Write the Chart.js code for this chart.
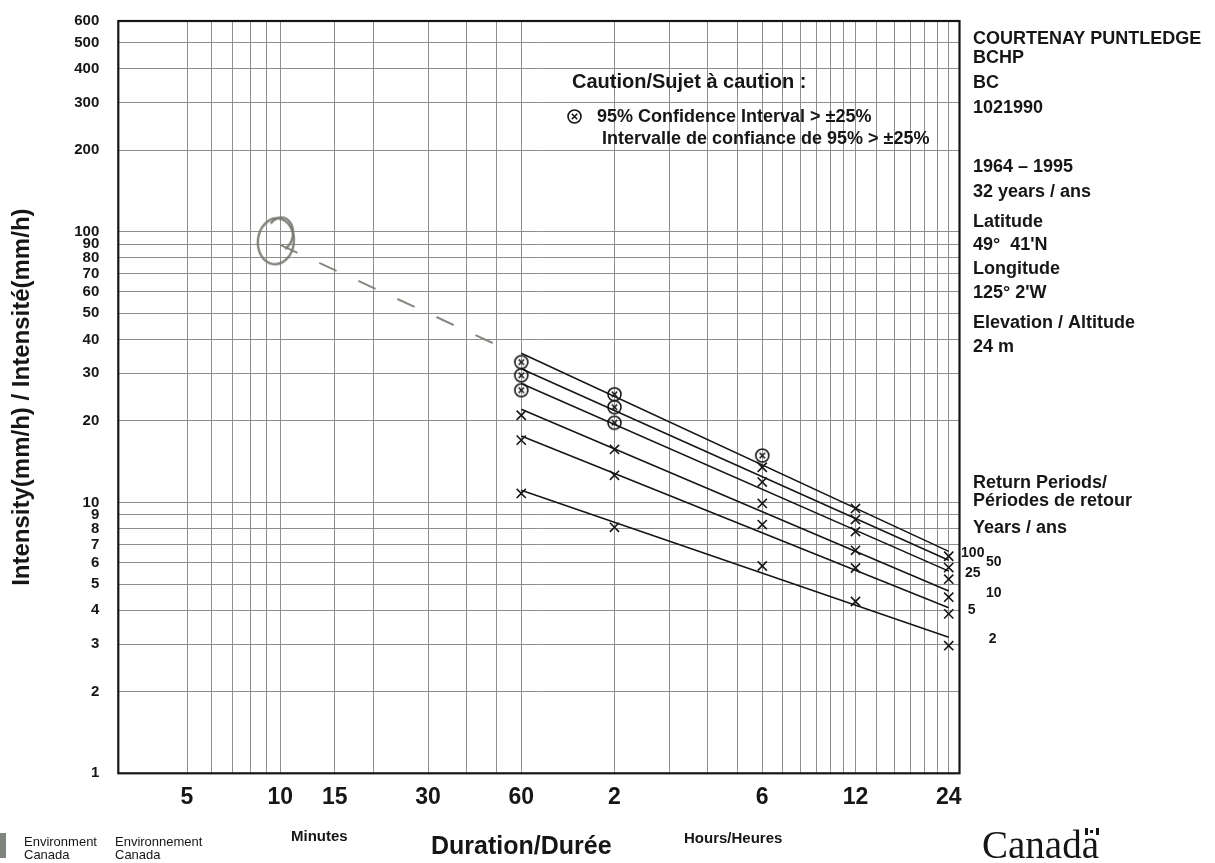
<!DOCTYPE html>
<html>
<head>
<meta charset="utf-8">
<title>IDF - Courtenay Puntledge BCHP</title>
<script src="https://cdn.jsdelivr.net/npm/chart.js@4.4.1/dist/chart.umd.min.js"></script>
<style>
  html, body { margin: 0; padding: 0; background: #fff; }
  #wrap { width: 1215px; height: 863px; position: relative; }
</style>
</head>
<body>
<div id="wrap"><canvas id="idfChart"></canvas></div>
<script>
// durations (minutes) where the intensities were computed
const durations = [60, 120, 360, 720, 1440];
const returnPeriods = ['2', '5', '10', '25', '50', '100'];

// intensity in mm/h, one list per return period
const intensity2 = [10.8, 8.1, 5.83, 4.31, 2.96];
const intensity5 = [17.0, 12.6, 8.29, 5.73, 3.88];
const intensity10 = [21.0, 15.7, 9.92, 6.66, 4.47];
const intensity25 = [26.0, 19.7, 11.9, 7.81, 5.21];
const intensity50 = [29.5, 22.5, 13.5, 8.65, 5.75];
const intensity100 = [33.0, 25.1, 14.9, 9.51, 6.33];

// 1 = 95% confidence interval > +-25% (circled marker)
const caution2 = [0, 0, 0, 0, 0];
const caution5 = [0, 0, 0, 0, 0];
const caution10 = [0, 0, 0, 0, 0];
const caution25 = [1, 1, 0, 0, 0];
const caution50 = [1, 1, 0, 0, 0];
const caution100 = [1, 1, 1, 0, 0];

// fitted lines, ends at 60 min and 24 h
const fitDurations = [60, 1440];
const fit2 = [11.1, 3.18];
const fit5 = [17.6, 4.09];
const fit10 = [22.1, 4.71];
const fit25 = [27.5, 5.58];
const fit50 = [31.2, 6.12];
const fit100 = [35.6, 6.60];

// pencil marks on the scanned sheet
const pencilDurations = [10, 51];
const pencilIntensity = [89.4, 37.8];
const circleDuration = [9.75];
const circleIntensity = [93];

// axes
const xGridValues = [5, 6, 7, 8, 9, 10, 15, 20, 30, 40, 50, 60, 120, 180, 240, 300, 360, 420, 480, 540, 600, 660, 720, 840, 960, 1080, 1200, 1320, 1440];
const xLabelValues = [5, 10, 15, 30, 60, 120, 360, 720, 1440];
const xLabels = ['5', '10', '15', '30', '60', '2', '6', '12', '24'];
const yTickValues = [1, 2, 3, 4, 5, 6, 7, 8, 9, 10, 20, 30, 40, 50, 60, 70, 80, 90, 100, 200, 300, 400, 500, 600];

const series = [
  { period: '2', values: intensity2, caution: caution2, fit: fit2 },
  { period: '5', values: intensity5, caution: caution5, fit: fit5 },
  { period: '10', values: intensity10, caution: caution10, fit: fit10 },
  { period: '25', values: intensity25, caution: caution25, fit: fit25 },
  { period: '50', values: intensity50, caution: caution50, fit: fit50 },
  { period: '100', values: intensity100, caution: caution100, fit: fit100 }
];
// where the return period numbers sit next to the line ends (px)
const periodLabelDx = [44, 23, 45, 24, 45, 24];

const INK = '#161616';
const SANS = '"Liberation Sans", Arial, sans-serif';

// circled x marker
const circledX = document.createElement('canvas');
circledX.width = 17; circledX.height = 17;
(function () {
  const c = circledX.getContext('2d');
  c.strokeStyle = INK; c.lineWidth = 1.6;
  c.beginPath(); c.arc(8.5, 8.5, 6.5, 0, Math.PI * 2); c.stroke();
  c.beginPath();
  c.moveTo(5.8, 5.8); c.lineTo(11.2, 11.2);
  c.moveTo(11.2, 5.8); c.lineTo(5.8, 11.2);
  c.stroke();
})();

// hand drawn pencil loop
const pencilLoop = document.createElement('canvas');
pencilLoop.width = 50; pencilLoop.height = 64;
(function () {
  const c = pencilLoop.getContext('2d');
  c.strokeStyle = 'rgba(115,120,110,0.9)'; c.lineWidth = 2.4;
  c.beginPath(); c.ellipse(24, 33, 18, 23, 0.1, 0, Math.PI * 2); c.stroke();
  c.beginPath(); c.ellipse(28, 26, 13, 17, 0.2, -2.6, 0.9); c.stroke();
})();

const datasets = [];
series.forEach(s => {
  datasets.push({
    label: s.period + ' fit',
    data: fitDurations.map((d, i) => ({ x: d, y: s.fit[i] })),
    showLine: true,
    borderColor: INK,
    borderWidth: 1.6,
    pointRadius: 0,
    order: 2
  });
  datasets.push({
    label: s.period,
    data: durations.map((d, i) => ({ x: d, y: s.values[i] })),
    showLine: false,
    borderColor: INK,
    backgroundColor: INK,
    borderWidth: 1.6,
    pointRadius: 6.5,
    pointStyle: ctx => s.caution[ctx.dataIndex] ? circledX : 'crossRot',
    order: 1
  });
});
datasets.push({
  label: 'pencil',
  data: pencilDurations.map((d, i) => ({ x: d, y: pencilIntensity[i] })),
  showLine: true,
  borderColor: 'rgba(120,125,115,0.9)',
  borderWidth: 2,
  borderDash: [19, 24],
  pointRadius: 0,
  order: 3
});
datasets.push({
  label: 'pencil circle',
  data: circleDuration.map((d, i) => ({ x: d, y: circleIntensity[i] })),
  showLine: false,
  pointStyle: pencilLoop,
  pointRadius: 20,
  order: 3
});

const sheetPlugin = {
  id: 'sheet',
  beforeDraw(chart) {
    const c = chart.ctx;
    c.save();
    c.fillStyle = '#fff';
    c.fillRect(0, 0, chart.width, chart.height);
    c.restore();
  },
  afterDraw(chart) {
    const c = chart.ctx;
    const a = chart.chartArea;
    const xs = chart.scales.x, ys = chart.scales.y;
    c.save();
    // frame
    c.strokeStyle = INK; c.lineWidth = 2.2;
    c.strokeRect(a.left, a.top, a.right - a.left, a.bottom - a.top);

    c.fillStyle = INK;
    c.textBaseline = 'middle';
    c.textAlign = 'left';

    // caution note
    c.font = 'bold 20px ' + SANS;
    c.fillText('Caution/Sujet à caution :', 572, 82);
    c.drawImage(circledX, 566, 108);
    c.font = 'bold 18px ' + SANS;
    c.fillText('95% Confidence Interval > ±25%', 597, 117);
    c.fillText('Intervalle de confiance de 95% > ±25%', 602, 139);

    // station info
    const info = [
      ['COURTENAY PUNTLEDGE', 39], ['BCHP', 58], ['BC', 83], ['1021990', 108],
      ['1964 – 1995', 167], ['32 years / ans', 192], ['Latitude', 222], ['49°  41\'N', 245],
      ['Longitude', 269], ['125° 2\'W', 293], ['Elevation / Altitude', 323], ['24 m', 347],
      ['Return Periods/', 483], ['Périodes de retour', 501], ['Years / ans', 528]
    ];
    info.forEach(([t, y]) => c.fillText(t, 973, y));

    // return period numbers at the line ends
    c.font = 'bold 14px ' + SANS;
    c.textAlign = 'center';
    const xEnd = xs.getPixelForValue(fitDurations[1]);
    series.forEach((s, i) => {
      c.fillText(s.period, xEnd + periodLabelDx[i], ys.getPixelForValue(s.fit[1]) + 2);
    });

    // footer
    c.fillStyle = '#7f847c';
    c.fillRect(0, 833, 6, 25);
    c.fillStyle = INK;
    c.textAlign = 'left';
    c.font = '13px ' + SANS;
    c.fillText('Environment', 24, 842);
    c.fillText('Canada', 24, 855);
    c.fillText('Environnement', 115, 842);
    c.fillText('Canada', 115, 855);
    c.font = 'bold 15px ' + SANS;
    c.fillText('Minutes', 291, 837);
    c.fillText('Hours/Heures', 684, 839);
    c.font = 'bold 25px ' + SANS;
    c.fillText('Duration/Durée', 431, 847);

    // Canada wordmark
    c.font = '39px "Liberation Serif", "Times New Roman", serif';
    c.textBaseline = 'alphabetic';
    c.fillText('Canada', 982, 858);
    c.fillRect(1085, 828, 3, 7);
    c.fillRect(1096, 828, 3, 7);
    c.fillRect(1090, 830, 3, 3);
    c.restore();
  }
};

new Chart(document.getElementById('idfChart'), {
  type: 'scatter',
  data: { datasets },
  options: {
    responsive: true,
    maintainAspectRatio: false,
    animation: false,
    events: [],
    layout: { padding: { left: 0, top: 14, right: 255.5, bottom: 49.7 } },
    plugins: { legend: { display: false }, tooltip: { enabled: false } },
    scales: {
      x: {
        type: 'logarithmic',
        min: 3,
        max: 1560,
        afterBuildTicks: scale => { scale.ticks = xGridValues.map(v => ({ value: v })); },
        afterFit: scale => { scale.height = 40; scale.paddingLeft = 0; scale.paddingRight = 0; },
        grid: { color: '#8e8e8e', lineWidth: 1, drawTicks: false },
        border: { display: false },
        ticks: {
          autoSkip: false,
          maxRotation: 0,
          minRotation: 0,
          padding: 11,
          color: INK,
          font: { family: SANS, size: 23, weight: 'bold' },
          callback: value => {
            const i = xLabelValues.indexOf(value);
            return i >= 0 ? xLabels[i] : '';
          }
        }
      },
      y: {
        type: 'logarithmic',
        min: 1,
        max: 600,
        afterBuildTicks: scale => { scale.ticks = yTickValues.map(v => ({ value: v })); },
        afterFit: scale => { scale.width = 118.3; scale.paddingTop = 0; scale.paddingBottom = 0; },
        grid: { color: '#8e8e8e', lineWidth: 1, drawTicks: false },
        border: { display: false },
        title: {
          display: true,
          text: 'Intensity(mm/h) / Intensité(mm/h)',
          color: INK,
          font: { family: SANS, size: 24, weight: 'bold' },
          padding: { top: 8, bottom: 0 }
        },
        ticks: {
          autoSkip: false,
          padding: 19,
          color: INK,
          font: { family: SANS, size: 15, weight: 'bold' },
          callback: value => String(value)
        }
      }
    }
  },
  plugins: [sheetPlugin]
});
</script>
</body>
</html>
